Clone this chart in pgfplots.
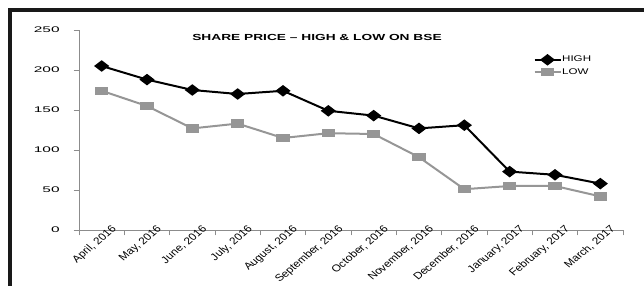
\documentclass[border=0pt]{standalone}
\usepackage{pgfplots}
\pgfplotsset{compat=1.18}
\usepackage{fontspec}
\setmainfont{Liberation Sans}
\definecolor{lowgray}{RGB}{150,150,150}
\definecolor{axgray}{RGB}{140,140,140}
\begin{document}
\begin{tikzpicture}
\useasboundingbox (0,0) rectangle (483pt,214.5pt);
\draw[line width=2.5pt, color=black!90] (7.5pt,-5pt) -- (7.5pt,207pt) -- (490pt,207pt);
\begin{axis}[
  at={(59.25pt,42pt)}, anchor=south west,
  scale only axis, width=408pt, height=150pt,
  xmin=-0.5, xmax=11.5, ymin=0, ymax=250,
  axis x line=bottom, axis y line=left,
  axis line style={-, color=axgray, line width=0.6pt},
  tick style={color=axgray, line width=0.6pt},
  tick align=outside, major tick length=4pt,
  ytick={0,50,100,150,200,250},
  yticklabel style={font=\fontsize{6.1}{6}\selectfont, xscale=1.9, anchor=east, xshift=-2pt},
  /pgf/number format/assume math mode=true,
  xtick={-0.5,0.5,...,11.5},
  xticklabels={{},{},{},{},{},{},{},{},{},{},{},{},{}},
  extra x ticks={0,1,2,3,4,5,6,7,8,9,10,11},
  extra x tick labels={{April, 2016},{May, 2016},{June, 2016},{July, 2016},{August, 2016},{September, 2016},{October, 2016},{November, 2016},{December, 2016},{January, 2017},{February, 2017},{March, 2017}},
  extra x tick style={major tick length=0pt, tick label style={font=\fontsize{7.4}{8}\selectfont, xscale=1.2, rotate=45, anchor=north east, inner sep=1pt, xshift=8pt}},
  legend style={at={(0.835,0.875)}, anchor=north west, draw=none, fill=none, inner sep=0pt, row sep=2.5pt,
    font=\fontsize{6.2}{7}\selectfont, nodes={inner sep=0.5pt}},
  legend cell align=left,
  legend image code/.code={\draw[#1,mark repeat=2,mark phase=2] plot coordinates {(0pt,0pt)(9.75pt,0pt)(19.5pt,0pt)};},
  clip=false,
]
\addplot[color=black, line width=1.5pt, mark=diamond*, mark size=3.4pt, mark options={xscale=1.75, solid, fill=black}]
  coordinates {(0,205)(1,188)(2,175)(3,170)(4,174)(5,149)(6,143)(7,127)(8,131)(9,73)(10,69)(11,58)};
\addlegendentry{\scalebox{1.4}[1]{HIGH}}
\addplot[color=lowgray, line width=1.5pt, mark=square*, mark size=2.4pt, mark options={xscale=1.75, solid, fill=lowgray}]
  coordinates {(0,174)(1,155)(2,127)(3,133)(4,115)(5,121)(6,120)(7,91)(8,51)(9,55)(10,55)(11,42)};
\addlegendentry{\scalebox{1.4}[1]{LOW}}
\node[font=\bfseries\fontsize{6.6}{7}\selectfont, xscale=1.56] at (rel axis cs:0.4375,0.965) {SHARE PRICE -- HIGH \& LOW ON BSE};
\end{axis}
\end{tikzpicture}
\end{document}
